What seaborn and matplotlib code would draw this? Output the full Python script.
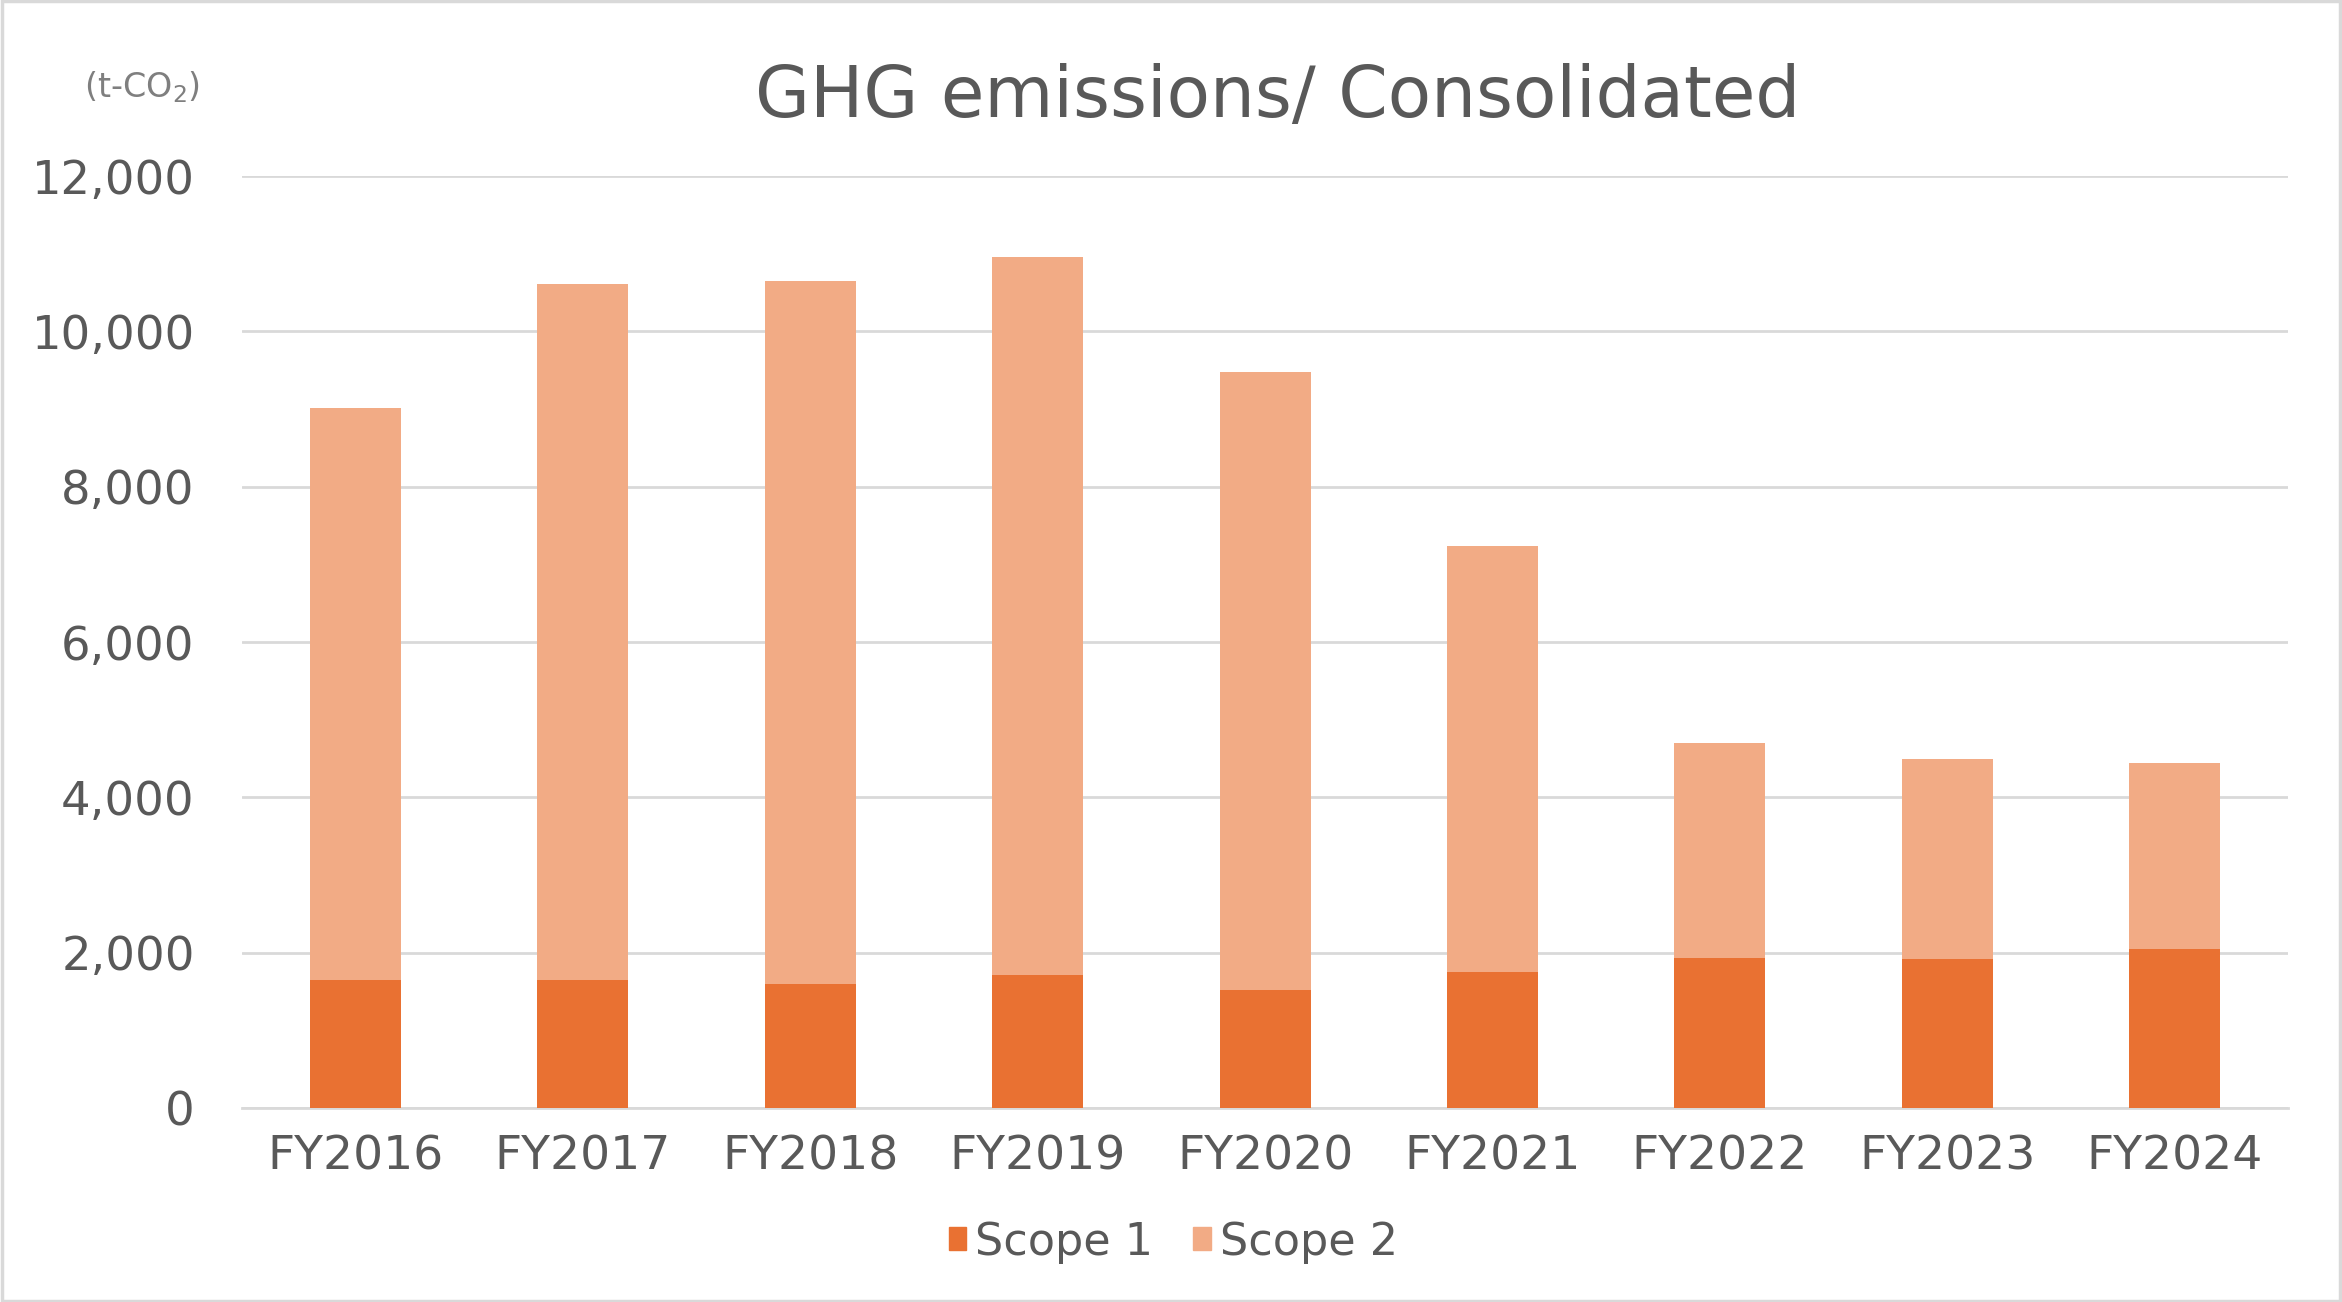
import matplotlib
matplotlib.use('Agg')
import matplotlib.pyplot as plt
import seaborn as sns
import pandas as pd
from matplotlib.patches import Patch, Rectangle

# data (t-CO2)
years = ['FY2016', 'FY2017', 'FY2018', 'FY2019', 'FY2020', 'FY2021', 'FY2022', 'FY2023', 'FY2024']
scope1 = [1645, 1645, 1594, 1709, 1517, 1747, 1927, 1914, 2042]
scope2 = [7365, 8970, 9060, 9253, 7964, 5483, 2774, 2580, 2400]
yticks = [0, 2000, 4000, 6000, 8000, 10000, 12000]

c1 = '#E97132'
c2 = '#F2AB85'
txt = '#595959'
grid = '#D9D9D9'

sns.set_theme(style='white')
plt.rcParams['font.family'] = ['DejaVu Sans']

df = pd.DataFrame({'year': years, 'scope1': scope1, 'scope2': scope2})
df['total'] = df['scope1'] + df['scope2']

fig = plt.figure(figsize=(23.42, 13.02), dpi=100)
ax = fig.add_axes([0.1033, 0.149, 0.8737, 0.7158])

# stacked: total first (scope 2 colour), scope 1 over it
sns.barplot(data=df, x='year', y='total', color=c2, width=0.4, saturation=1,
            linewidth=0, ax=ax, zorder=2)
sns.barplot(data=df, x='year', y='scope1', color=c1, width=0.4, saturation=1,
            linewidth=0, ax=ax, zorder=3)

ax.set_ylim(0, 12000)
ax.set_xlim(-0.5, len(years) - 0.5)
ax.set_yticks(yticks)
ax.set_yticklabels([f'{v:,}' for v in yticks])
ax.yaxis.grid(True, color=grid, linewidth=2)
ax.set_axisbelow(True)
ax.set_xlabel('')
ax.set_ylabel('')
for s in ['top', 'right', 'left']:
    ax.spines[s].set_visible(False)
ax.spines['bottom'].set_color(grid)
ax.spines['bottom'].set_linewidth(2)
ax.tick_params(axis='y', length=0, pad=34, labelsize=33.5, labelcolor=txt)
ax.tick_params(axis='x', length=0, pad=19, labelsize=34, labelcolor=txt)

fig.text(0.5455, 0.925, 'GHG emissions/ Consolidated', ha='center', va='center',
         fontsize=51, color=txt)
fig.text(0.0605, 0.933, '(t-CO$_2$)', ha='center', va='center', fontsize=24, color='#7F7F7F')

handles = [Patch(color=c1, label='Scope 1'), Patch(color=c2, label='Scope 2')]
fig.legend(handles=handles, loc='center', bbox_to_anchor=(0.501, 0.046), ncol=2,
           frameon=False, fontsize=32, labelcolor=txt, handlelength=0.4, handleheight=0.4,
           handletextpad=0.2, columnspacing=0.9)

# light grey frame round the whole chart
fig.patches.append(Rectangle((0.001, 0.001), 0.998, 0.998, transform=fig.transFigure,
                             fill=False, edgecolor=grid, linewidth=2.5))

fig.savefig('out.png', dpi=100)
